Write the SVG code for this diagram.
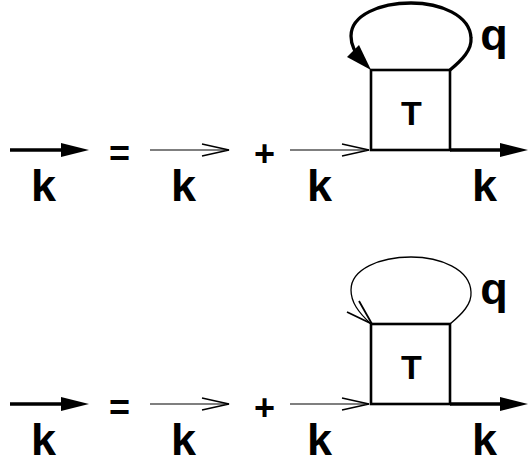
<svg xmlns="http://www.w3.org/2000/svg" width="528" height="459" viewBox="0 0 528 459">
<style>
.lbl{font-family:"Liberation Sans",Arial,sans-serif;font-weight:bold;fill:#000;text-anchor:middle}
.k{font-size:45px}
.op{font-size:36px}
.t{font-size:34px}
.thick{stroke:#000;stroke-width:3.6;fill:none}
.thin{stroke:#000;stroke-width:1.2;fill:none}
.box{stroke:#000;stroke-width:2.6;fill:#fff}
.loopA{stroke:#000;stroke-width:3.3;fill:none}
.loopB{stroke:#000;stroke-width:1.3;fill:none}
</style>
<defs>
<marker id="fillHead" markerUnits="userSpaceOnUse" markerWidth="30" markerHeight="14" refX="20" refY="7" orient="auto" overflow="visible">
<path d="M0,0 L28,7 L0,14 Z" fill="#000"/>
</marker>
<marker id="openHead" markerUnits="userSpaceOnUse" markerWidth="30" markerHeight="14" refX="27" refY="7" orient="auto" overflow="visible">
<path d="M0,1 L27,7 L0,13" fill="none" stroke="#000" stroke-width="1.5"/>
</marker>
</defs>

<g id="panel1">
<g id="connectors1">
<line class="thick" x1="10" y1="150" x2="81" y2="150" marker-end="url(#fillHead)"/>
<line class="thin" x1="150" y1="150" x2="229" y2="150" marker-end="url(#openHead)"/>
<line class="thin" x1="290" y1="150" x2="369" y2="150" marker-end="url(#openHead)"/>
<line class="thick" x1="450" y1="150" x2="520" y2="150" marker-end="url(#fillHead)"/>
<path class="loopA" d="M450,70 C462,60 472,50 471,38 C470,15 440,3 411,3 C380,3 351,15 351,36 C351,46 355,52 362,60"/>
<polygon points="347,57 359,45 371,70" fill="#000"/>
</g>
<g id="T1">
<rect class="box" x="371" y="70" width="79" height="80"/>
<text class="lbl t" x="411.5" y="125">T</text>
</g>
<g id="labels1">
<text class="lbl k" x="43.5" y="201">k</text>
<text class="lbl op" x="119.5" y="166">=</text>
<text class="lbl k" x="183.5" y="201">k</text>
<text class="lbl op" x="264.5" y="166">+</text>
<text class="lbl k" x="319.5" y="201">k</text>
<text class="lbl k" x="484.5" y="201">k</text>
<text class="lbl k" x="494" y="50">q</text>
</g>
</g>

<g id="panel2">
<g id="connectors2">
<line class="thick" x1="10" y1="404" x2="81" y2="404" marker-end="url(#fillHead)"/>
<line class="thin" x1="150" y1="404" x2="229" y2="404" marker-end="url(#openHead)"/>
<line class="thin" x1="290" y1="404" x2="369" y2="404" marker-end="url(#openHead)"/>
<line class="thick" x1="450" y1="404" x2="520" y2="404" marker-end="url(#fillHead)"/>
<path class="loopB" d="M450,324 C462,314 472,304 471,292 C470,269 440,257 411,257 C380,257 351,269 351,290 C351,302 358,312 371,324"/>
<polyline points="347,312 372,324 359,301" fill="none" stroke="#000" stroke-width="1.8"/>
</g>
<g id="T2">
<rect class="box" x="371" y="324" width="79" height="80"/>
<text class="lbl t" x="411.5" y="379">T</text>
</g>
<g id="labels2">
<text class="lbl k" x="43.5" y="455">k</text>
<text class="lbl op" x="119.5" y="420">=</text>
<text class="lbl k" x="183.5" y="455">k</text>
<text class="lbl op" x="264.5" y="420">+</text>
<text class="lbl k" x="319.5" y="455">k</text>
<text class="lbl k" x="484.5" y="455">k</text>
<text class="lbl k" x="494" y="304">q</text>
</g>
</g>
</svg>
